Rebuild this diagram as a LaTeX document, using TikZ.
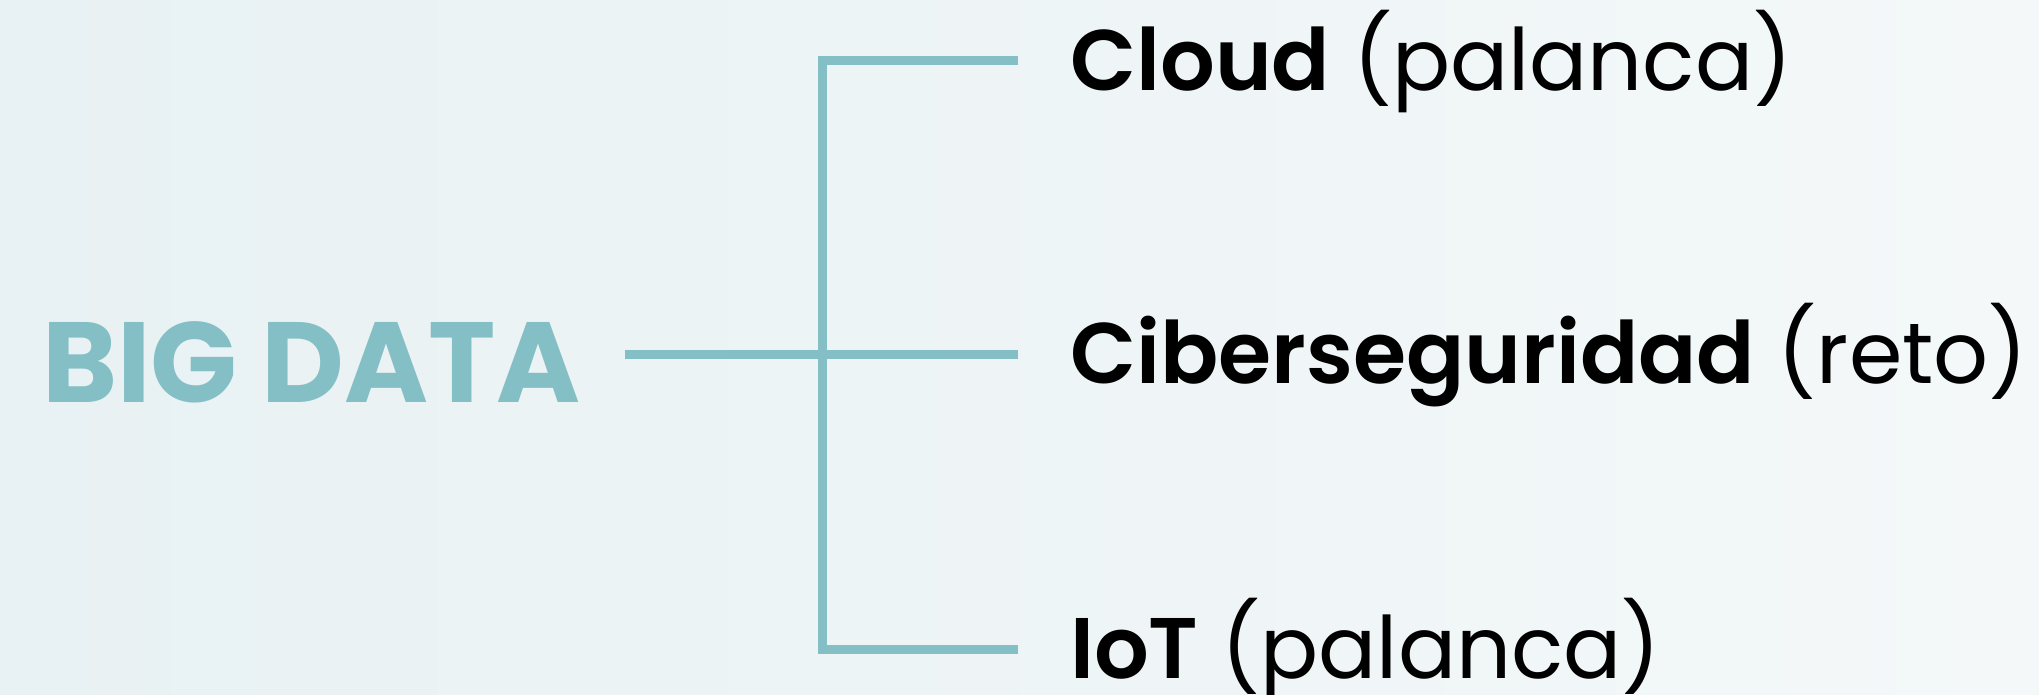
\documentclass[tikz,border=0pt]{standalone}
\usepackage{fontspec}
\setmainfont{Poppins}[BoldFont={Poppins SemiBold}]
\newfontfamily\heavy{Poppins Bold}
\definecolor{teal}{RGB}{132,191,198}
\definecolor{bgleft}{RGB}{232,241,243}
\definecolor{bgright}{RGB}{244,248,249}
\tikzset{
	branch/.style={draw=teal,line width=9pt,line join=miter},
	label/.style={anchor=base west,inner sep=0pt,font=\fontsize{86}{90}\selectfont}
}

\begin{document}
\begin{tikzpicture}[x=1pt,y=1pt]
	\shade [left color=bgleft,right color=bgright] (0,0) rectangle (2039,695);
	\useasboundingbox (0,0) rectangle (2039,695);

	\node [anchor=base west,inner sep=0pt,text=teal,font=\fontsize{114}{118}\selectfont\heavy] (bigdata) at (42,292) {BIG DATA};
	\node [label] (cloud) at (1070,604) {\textbf{Cloud} (palanca)};
	\node [label] (ciber) at (1070,311) {\textbf{Ciberseguridad} (reto)};
	\node [label] (iot) at (1070,16) {\textbf{IoT} (palanca)};

	\coordinate (hub) at (822,340);
	\coordinate (top) at ([xshift=-52pt,yshift=30pt]cloud.base west);
	\coordinate (bot) at ([xshift=-52pt,yshift=29pt]iot.base west);

	\draw [branch] ([xshift=45pt]bigdata.base east |- hub) -- ([xshift=-52pt]ciber.base west |- hub);
	\draw [branch] (top) -| (hub) |- (bot);
\end{tikzpicture}
\end{document}
